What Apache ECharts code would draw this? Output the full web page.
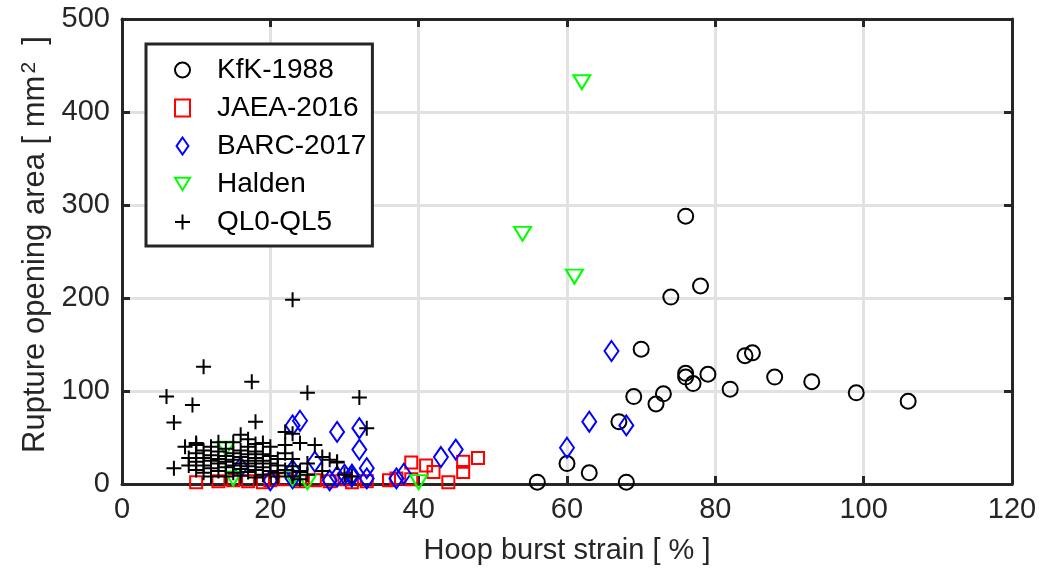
<!DOCTYPE html>
<html>
<head>
<meta charset="utf-8">
<script src="https://cdn.jsdelivr.net/npm/echarts@6/dist/echarts.min.js"></script>
<style>html,body{margin:0;padding:0;background:#fff}#c{width:1044px;height:578px}</style>
</head>
<body>
<div id="c"></div>
<script>
var xTicks = [0, 20, 40, 60, 80, 100, 120];
var yTicks = [0, 100, 200, 300, 400, 500];
var seriesNames = ['KfK-1988', 'JAEA-2016', 'BARC-2017', 'Halden', 'QL0-QL5'];

var kfk1988 = [[56,2],[60,22],[63,12],[68,2],[67,67],[69,94],[70,145],[72,86],[73,97],[76,119],[76,115],[77,108],[79,118],[82,102],[84,138],[85,141],[88,115],[93,110],[99,98],[106,89],[76,288],[74,201],[78,213]];

var jaea2016 = [[10,2],[13,3],[15,4],[17,3],[19,2],[20,4],[22,5],[24,3],[26,4],[28,3],[30,5],[31,2],[33,3],[36,4],[37,6],[39,5],[39,23],[41,20],[42,13],[44,2],[46,24],[46,13],[48,28]];

var barc2017 = [[16,18],[20,4],[23,63],[24,68],[23,15],[23,6],[26,24],[28,4],[29,56],[29,8],[30,10],[31,10],[31,8],[32,60],[32,37],[33,17],[33,6],[37,6],[38,11],[43,29],[45,37],[60,39],[63,67],[66,143],[68,63]];

var halden = [[62,432],[54,269],[61,223],[15,6],[23,6],[25,2],[40,2],[14,38]];

var ql0ql5 = [[6,94],[7,66],[9.5,85],[11,126],[17.5,110],[23,198],[18,67],[25,98],[32,93],[33,60],[7,17],[8.5,40],[10,42],[10,44],
[9,20],[9,28],[10,15],[10,24],[10,33],[11,12],[11,20],[11,28],[11,36],[12,17],[12,25],[12,31],[12,40],[13,14],[13,22],[13,27],[13,35],[13,45],[14,18],[14,24],[14,30],[14,38],[15,12],[15,20],[15,26],[15,33],[15,45],[16,16],[16,22],[16,29],[16,36],[16,53],[17,13],[17,19],[17,25],[17,32],[17,40],[17,48],[18,15],[18,22],[18,28],[18,35],[18,43],[19,10],[19,18],[19,25],[19,32],[19,44],[20,14],[20,22],[20,30],[20,40],[21,12],[21,20],[21,27],[22,15],[22,33],[22,42],[22,56],[23,8],[23,19],[23,27],[23,54],[24,14],[24,44],[24,13],[25,10],[25,22],[26,42],[27,29],[28,26],[29,24],[29,23],[30,10],[31,8],[21,8],[14,8],[12,8],[16,9],[18,7],[27,14],[24,5]];

var FONT = '"Liberation Sans", Arial, sans-serif';
var TXT = '#262626';
var FS = 29;
var LFS = 28;
var YFS = 31;
var chart = echarts.init(document.getElementById('c'), null, {renderer: 'canvas'});

function axisCommon(min, max, interval) {
  return {
    type: 'value', min: min, max: max, interval: interval,
    axisLine: {show: true, onZero: false, lineStyle: {color: TXT, width: 3}},
    axisTick: {show: true, inside: true, length: 8, lineStyle: {color: TXT, width: 3}},
    splitLine: {show: false}
  };
}

var xMain = axisCommon(xTicks[0], xTicks[xTicks.length-1], xTicks[1]-xTicks[0]);
xMain.position = 'bottom';
xMain.splitLine = {show: true, lineStyle: {color: '#e2e2e2', width: 3}};
xMain.axisLabel = {color: TXT, fontSize: FS, fontFamily: FONT, margin: 11};
xMain.name = 'Hoop burst strain [ % ]';
xMain.nameLocation = 'middle';
xMain.nameGap = 52;
xMain.nameTextStyle = {color: TXT, fontSize: FS, fontFamily: FONT};

var xTop = axisCommon(xTicks[0], xTicks[xTicks.length-1], xTicks[1]-xTicks[0]);
xTop.position = 'top';
xTop.axisLabel = {show: false};

var yMain = axisCommon(yTicks[0], yTicks[yTicks.length-1], yTicks[1]-yTicks[0]);
yMain.position = 'left';
yMain.splitLine = {show: true, lineStyle: {color: '#e2e2e2', width: 3}};
yMain.axisLabel = {color: TXT, fontSize: FS, fontFamily: FONT, margin: 12};
yMain.name = '{a|Rupture opening area [ mm}{s|2}{a|  ]}';
yMain.nameLocation = 'middle';
yMain.nameGap = 52;
yMain.nameTextStyle = {color: TXT, fontSize: YFS, fontFamily: FONT, padding: [0, 0, 0, 14],
  rich: {
    a: {color: TXT, fontSize: YFS, fontFamily: FONT},
    s: {color: TXT, fontSize: 21, fontFamily: FONT, verticalAlign: 'top', padding: [0, 0, 12, 2]}
  }};

var yRight = axisCommon(yTicks[0], yTicks[yTicks.length-1], yTicks[1]-yTicks[0]);
yRight.position = 'right';
yRight.axisLabel = {show: false};

var crossPath = 'path://M0,7L14,7M7,0L7,14';
var downTri = 'path://M0,0L17,0L8.5,14Z';
var tallDiamond = 'path://M7,0L14,10L7,20L0,10Z';

var option = {
  animation: false,
  backgroundColor: '#fff',
  grid: {left: 122, top: 19, right: 32, bottom: 94, containLabel: false},
  xAxis: [xMain, xTop],
  yAxis: [yMain, yRight],
  legend: {
    orient: 'vertical', left: 146, top: 44,
    data: [
      {name: seriesNames[0]},
      {name: seriesNames[1]},
      {name: seriesNames[2], icon: tallDiamond},
      {name: seriesNames[3], icon: downTri},
      {name: seriesNames[4]}
    ],
    symbolKeepAspect: true,
    itemWidth: 15, itemHeight: 17, itemGap: 10,
    padding: [12, 6, 10, 28],
    borderColor: TXT, borderWidth: 3, backgroundColor: '#fff',
    itemStyle: {borderWidth: 2},
    textStyle: {color: '#000', fontSize: LFS, fontFamily: FONT, padding: [0, 0, 0, 22]}
  },
  series: [
    {name: seriesNames[0], type: 'scatter', data: kfk1988, symbol: 'circle', symbolSize: 15,
     itemStyle: {color: 'rgba(0,0,0,0)', borderColor: '#000', borderWidth: 2, opacity: 1}},
    {name: seriesNames[1], type: 'scatter', data: jaea2016, symbol: 'rect', symbolSize: 12,
     itemStyle: {color: 'rgba(0,0,0,0)', borderColor: '#ff0000', borderWidth: 2, opacity: 1}},
    {name: seriesNames[2], type: 'scatter', data: barc2017, symbol: 'diamond', symbolSize: [14, 20],
     itemStyle: {color: 'rgba(0,0,0,0)', borderColor: '#0000ff', borderWidth: 2, opacity: 1}},
    {name: seriesNames[3], type: 'scatter', data: halden, symbol: downTri, symbolSize: [17, 14],
     itemStyle: {color: 'rgba(0,0,0,0)', borderColor: '#00ff00', borderWidth: 2, opacity: 1}},
    {name: seriesNames[4], type: 'scatter', data: ql0ql5, symbol: crossPath, symbolSize: 15,
     itemStyle: {color: 'rgba(0,0,0,0)', borderColor: '#000', borderWidth: 2, opacity: 1}}
  ]
};
chart.setOption(option);
</script>
</body>
</html>
